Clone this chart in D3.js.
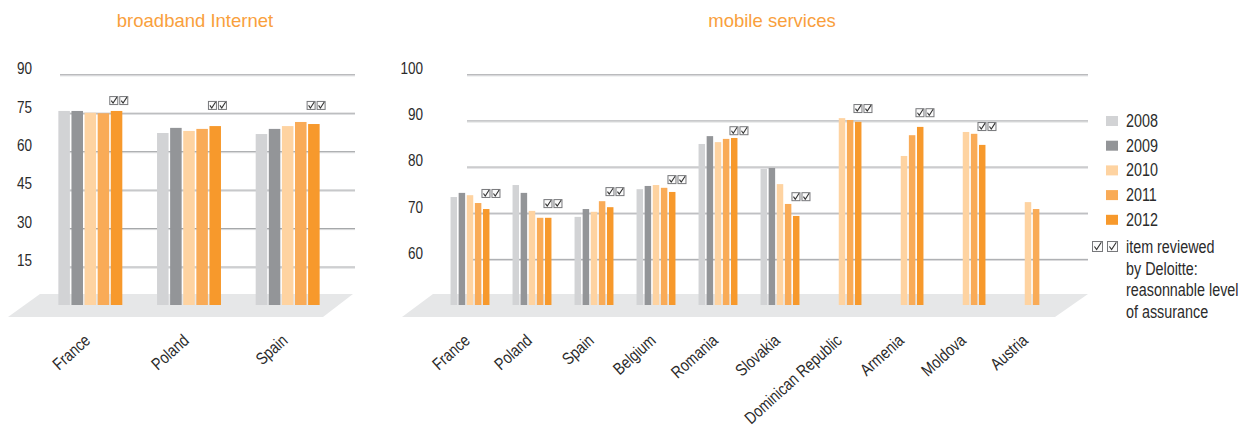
<!DOCTYPE html>
<html>
<head>
<meta charset="utf-8">
<script src="https://cdn.jsdelivr.net/npm/d3@7"></script>
<style>
  html, body { margin: 0; padding: 0; background: #fff; }
  svg { display: block; }
  text { font-family: 'Liberation Sans', Arial, sans-serif; }
</style>
</head>
<body>
<svg id="chart" width="1248" height="432"></svg>
<script>
// Survey years and their colours
const years = ["2008", "2009", "2010", "2011", "2012"];
const yearColors = ["#d2d3d5", "#939598", "#fed3a1", "#f9ab57", "#f7992c"];

// Broadband Internet
const bbCountries = ["France", "Poland", "Spain"];
const bb2008 = [75.7, 67.1, 66.7];
const bb2009 = [75.7, 69.1, 68.7];
const bb2010 = [75.0, 67.9, 69.8];
const bb2011 = [74.8, 68.7, 71.4];
const bb2012 = [75.7, 69.8, 70.6];
const bbReviewLevel = [78.0, 76.1, 76.1];   // where the "reviewed" marks sit
const bbTicks = [15, 30, 45, 60, 75, 90];

// Mobile services
const mobCountries = ["France", "Poland", "Spain", "Belgium", "Romania", "Slovakia",
                      "Dominican Republic", "Armenia", "Moldova", "Austria"];
const mob2008 = [73.4, 76.0, 69.1, 75.1, 84.9, 79.5, null, null, null, null];
const mob2009 = [74.3, 74.3, 70.8, 75.8, 86.6, 79.7, null, null, null, null];
const mob2010 = [73.8, 70.4, 70.2, 76.0, 85.3, 76.2, 90.5, 82.3, 87.5, 72.3];
const mob2011 = [72.1, 68.9, 72.5, 75.4, 86.0, 71.9, 90.1, 86.8, 87.1, 70.8];
const mob2012 = [70.8, 68.9, 71.2, 74.5, 86.2, 69.3, 89.7, 88.6, 84.7, null];
const mobReviewLevel = [73.2, 71.0, 73.6, 76.2, 86.8, 72.5, 91.6, 90.7, 87.7, null];
const mobTicks = [60, 70, 80, 90, 100];

const legendNote = ["item reviewed", "by Deloitte:", "reasonnable level", "of assurance"];

const svg = d3.select("#chart");
const textColor = "#2b2b2b";
const titleColor = "#f9a03c";
const NARROW = "scale(0.82,1)";   // condensed lettering

// draws a small ticked checkbox with its lower-left corner at (x, y)
function checkBox(g, x, y, s) {
  g.append("rect")
    .attr("x", x + 0.5).attr("y", y - s + 0.5)
    .attr("width", s - 1).attr("height", s - 1)
    .attr("fill", "#fbfbfb").attr("stroke", "#77787b").attr("stroke-width", 1);
  g.append("path")
    .attr("d", `M${x + s * 0.22},${y - s * 0.5} L${x + s * 0.42},${y - s * 0.22} L${x + s * 0.85},${y - s * 0.88}`)
    .attr("fill", "none").attr("stroke", "#333").attr("stroke-width", 1.1);
}

function drawPanel(opts) {
  const { countries, series, review, ticks, domain, xRange, gridX, floor, title, titleX, tickX } = opts;
  const g = svg.append("g");

  const y = d3.scaleLinear().domain(domain).range([305, 74.3]);
  const x0 = d3.scaleBand().domain(countries).range(xRange).paddingInner(0.32).paddingOuter(0.16);
  const x1 = d3.scaleBand().domain(years).range([0, x0.bandwidth()]).padding(opts.innerPad);

  // title
  g.append("text")
    .attr("x", titleX).attr("y", 27)
    .attr("text-anchor", "middle")
    .attr("font-size", 18.5)
    .attr("fill", titleColor)
    .text(title);

  // floor
  g.append("polygon")
    .attr("points", floor.map(p => p.join(",")).join(" "))
    .attr("fill", "#e6e7e8");

  // gridlines
  const grid = g.append("g");
  ticks.forEach(t => {
    grid.append("line")
      .attr("x1", gridX[0]).attr("x2", gridX[1])
      .attr("y1", y(t) + 0.5).attr("y2", y(t) + 0.5)
      .attr("stroke", "#9d9fa2").attr("stroke-width", 1);
    grid.append("line")
      .attr("x1", gridX[0]).attr("x2", gridX[1])
      .attr("y1", y(t) + 1.5).attr("y2", y(t) + 1.5)
      .attr("stroke", "#d4d5d7").attr("stroke-width", 1);
  });

  // value axis labels
  const axis = d3.axisLeft(y).tickValues(ticks).tickSize(0).tickPadding(0);
  const ax = g.append("g")
    .attr("transform", `translate(${tickX},-6)`)
    .call(axis);
  ax.select(".domain").remove();
  ax.attr("font-family", null);
  ax.selectAll("text")
    .attr("x", 0)
    .attr("transform", NARROW)
    .attr("font-size", 16.5).attr("fill", textColor);

  // bars
  const groups = g.selectAll("g.country")
    .data(countries.map((c, i) => ({ c, i })))
    .join("g")
    .attr("class", "country")
    .attr("transform", d => `translate(${x0(d.c)},0)`);

  groups.selectAll("rect")
    .data(d => years.map((yr, k) => ({ yr, k, v: series[k][d.i] })).filter(e => e.v != null))
    .join("rect")
    .attr("x", e => x1(e.yr))
    .attr("width", x1.bandwidth())
    .attr("y", e => y(e.v))
    .attr("height", e => y(domain[0]) - y(e.v))
    .attr("fill", e => yearColors[e.k]);

  // reviewed marks
  countries.forEach((c, i) => {
    if (review[i] == null) return;
    const bx = x0(c) + x1("2012") - 1.5;
    const by = y(review[i]);
    checkBox(g, bx, by, 9);
    checkBox(g, bx + 10, by, 9);
  });

  // category labels
  g.append("g")
    .selectAll("text")
    .data(countries)
    .join("text")
    .attr("transform", c => `translate(${x0(c) + x0.bandwidth() / 2 + 1},342) rotate(-42) ${NARROW}`)
    .attr("text-anchor", "end")
    .attr("font-size", 17)
    .attr("fill", textColor)
    .text(c => c);
}

drawPanel({
  countries: bbCountries,
  series: [bb2008, bb2009, bb2010, bb2011, bb2012],
  review: bbReviewLevel,
  ticks: bbTicks,
  domain: [0, 90],
  xRange: [41, 337],
  innerPad: 0.12,
  gridX: [60, 355],
  floor: [[40, 294], [353, 294], [323, 317], [8, 317]],
  title: "broadband Internet",
  titleX: 195,
  tickX: 32
});

drawPanel({
  countries: mobCountries,
  series: [mob2008, mob2009, mob2010, mob2011, mob2012],
  review: mobReviewLevel,
  ticks: mobTicks,
  domain: [50, 100],
  xRange: [439, 1059],
  innerPad: 0.2,
  gridX: [467, 1088],
  floor: [[433, 294], [1088, 294], [1055, 317], [402, 317]],
  title: "mobile services",
  titleX: 772,
  tickX: 423
});

// legend
const legend = svg.append("g");
years.forEach((yr, k) => {
  const cy = 121 + k * 24.7;
  legend.append("rect")
    .attr("x", 1106).attr("y", cy - 5)
    .attr("width", 12).attr("height", 10)
    .attr("fill", yearColors[k]);
  legend.append("text")
    .attr("transform", `translate(1126,${cy + 6}) ${NARROW}`)
    .attr("font-size", 17.5).attr("fill", textColor)
    .text(yr);
});
checkBox(legend, 1092, 252, 11);
checkBox(legend, 1107, 252, 11);
legend.selectAll("text.note")
  .data(legendNote)
  .join("text")
  .attr("class", "note")
  .attr("transform", (d, i) => `translate(1126,${253 + i * 21.6}) ${NARROW}`)
  .attr("font-size", 17.5).attr("fill", textColor)
  .text(d => d);
</script>
</body>
</html>
